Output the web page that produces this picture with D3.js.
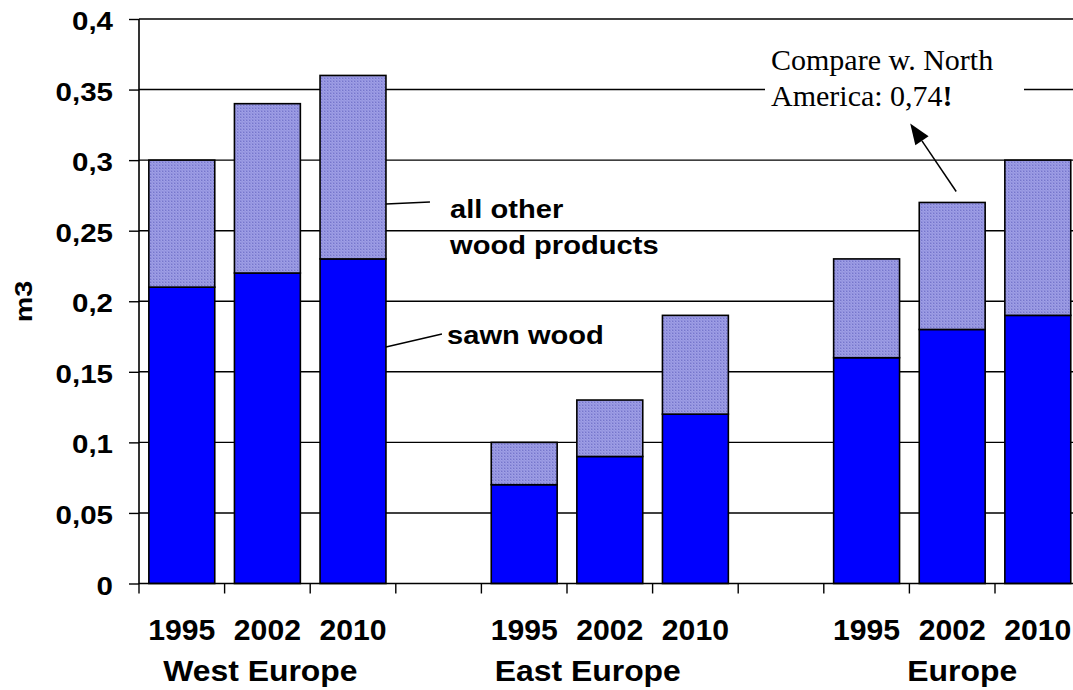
<!DOCTYPE html>
<html>
<head>
<meta charset="utf-8">
<script src="https://cdn.jsdelivr.net/npm/d3@7"></script>
<style>
  html, body { margin: 0; padding: 0; background: #fff; }
  svg { display: block; }
</style>
</head>
<body>
<div id="chart"></div>
<script>
// Per-capita consumption of wood products (m3), by region and year
const years = ["1995", "2002", "2010"];
const regions = ["West Europe", "East Europe", "Europe"];
// values listed region by region, years in order
const sawnWood   = [0.21, 0.22, 0.23,  0.07, 0.09, 0.12,  0.16, 0.18, 0.19];
const otherWood  = [0.09, 0.12, 0.13,  0.03, 0.04, 0.07,  0.07, 0.09, 0.11];
const yTickValues = [0, 0.05, 0.1, 0.15, 0.2, 0.25, 0.3, 0.35, 0.4];
const yTickLabels = ["0", "0,05", "0,1", "0,15", "0,2", "0,25", "0,3", "0,35", "0,4"];
const noteLines = ["Compare w. North", "America: 0,74"];

(function () {
const W = 1073, H = 690;
const svg = d3.select("#chart").append("svg")
  .attr("width", W).attr("height", H)
  .style("font-family", "'Liberation Sans', Arial, sans-serif");

// category slots: three years per region, an empty slot between regions
const slots = [];
regions.forEach((r, i) => {
  years.forEach(y => slots.push(r + "|" + y));
  if (i < regions.length - 1) slots.push("gap" + i);
});
const rows = [];
regions.forEach((r, i) => years.forEach((yr, j) => {
  const k = i * years.length + j;
  rows.push({ key: r + "|" + yr, region: r, year: yr, sawn: sawnWood[k], other: otherWood[k] });
}));

const plotLeft = 139, plotTop = 19, plotBottom = 583.5;
const step = 85.6;
const x = d3.scaleBand().domain(slots)
  .range([plotLeft, plotLeft + step * slots.length])
  .paddingInner(0.23).paddingOuter(0.115);
const y = d3.scaleLinear().domain([0, 0.4]).range([plotBottom, plotTop]);

// fill pattern for the "other products" segment
const defs = svg.append("defs");
const pat = defs.append("pattern").attr("id", "dots")
  .attr("width", 3).attr("height", 3).attr("patternUnits", "userSpaceOnUse");
pat.append("rect").attr("width", 3).attr("height", 3).attr("fill", "#a0a0e6");
pat.append("rect").attr("x", 0).attr("y", 0).attr("width", 1).attr("height", 1).attr("fill", "#7676cc");
pat.append("rect").attr("x", 1.5).attr("y", 1.5).attr("width", 1).attr("height", 1).attr("fill", "#7e7ed2");
pat.append("rect").attr("x", 1).attr("y", 0).attr("width", 1).attr("height", 1).attr("fill", "#8c8cda");
pat.append("rect").attr("x", 0).attr("y", 2).attr("width", 1).attr("height", 1).attr("fill", "#8c8cda");

// text helper with horizontal stretch
function txt(g, px, py, s, o) {
  const t = g.append("text")
    .attr("transform", `translate(${px},${py}) rotate(${o.rot || 0}) scale(${o.sx || 1},1)`)
    .attr("text-anchor", o.anchor || "start")
    .attr("font-size", o.size)
    .attr("font-weight", o.weight || "bold")
    .attr("fill", "#000")
    .text(s);
  if (o.family) t.attr("font-family", o.family);
  return t;
}

// horizontal gridlines
svg.append("g").selectAll("line").data(yTickValues.filter(v => v > 0)).join("line")
  .attr("x1", plotLeft).attr("x2", W)
  .attr("y1", d => y(d)).attr("y2", d => y(d))
  .attr("stroke", "#000").attr("stroke-width", 1.4);

// white box behind the note
svg.append("rect").attr("x", 765).attr("y", 40).attr("width", 259).attr("height", 74).attr("fill", "#fff");

// stacked bars
const bars = svg.append("g");
bars.selectAll("rect.sawn").data(rows).join("rect").attr("class", "sawn")
  .attr("x", d => x(d.key)).attr("width", x.bandwidth())
  .attr("y", d => y(d.sawn)).attr("height", d => y(0) - y(d.sawn))
  .attr("fill", "#0000ff").attr("stroke", "#000").attr("stroke-width", 1.6);
bars.selectAll("rect.other").data(rows).join("rect").attr("class", "other")
  .attr("x", d => x(d.key)).attr("width", x.bandwidth())
  .attr("y", d => y(d.sawn + d.other)).attr("height", d => y(d.sawn) - y(d.sawn + d.other))
  .attr("fill", "url(#dots)").attr("stroke", "#000").attr("stroke-width", 1.6);

// y axis
const yAxis = svg.append("g").attr("transform", `translate(${plotLeft},0)`)
  .call(d3.axisLeft(y).tickValues(yTickValues).tickSize(10).tickFormat(""));
yAxis.select(".domain").remove();
yAxis.selectAll("line").attr("stroke", "#000").attr("stroke-width", 1.4);
svg.append("line").attr("x1", plotLeft).attr("x2", plotLeft).attr("y1", plotTop).attr("y2", plotBottom + 0.5)
  .attr("stroke", "#000").attr("stroke-width", 1.6);
const yl = svg.append("g");
yTickValues.forEach((v, i) => txt(yl, 113, y(v) + 11, yTickLabels[i], { size: 25, sx: 1.18, anchor: "end" }));

// x axis with ticks between slots
svg.append("line").attr("x1", plotLeft).attr("x2", W).attr("y1", plotBottom).attr("y2", plotBottom)
  .attr("stroke", "#000").attr("stroke-width", 1.6);
svg.append("g").selectAll("line").data(slots).join("line")
  .attr("x1", d => x(d) - x.step() * x.paddingInner() / 2)
  .attr("x2", d => x(d) - x.step() * x.paddingInner() / 2)
  .attr("y1", plotBottom).attr("y2", plotBottom + 10)
  .attr("stroke", "#000").attr("stroke-width", 1.4);

// year and region labels
const xl = svg.append("g");
rows.forEach(d => txt(xl, x(d.key) + x.bandwidth() / 2, 640, d.year, { size: 29, sx: 1.04, anchor: "middle" }));
const regionShift = [-7, -22, 10];
regions.forEach((r, i) => {
  const mid = x(r + "|" + years[1]) + x.bandwidth() / 2;
  txt(xl, mid + regionShift[i], 681, r, { size: 29, sx: 1.1, anchor: "middle" });
});

// axis title
txt(svg, 31.5, 301.5, "m3", { size: 24, sx: 1.2, anchor: "middle", rot: -90 });

// segment labels with leader lines
const ann = svg.append("g");
const w10 = "West Europe|2010";
const wr = x(w10) + x.bandwidth();
ann.append("line").attr("x1", wr).attr("y1", 204).attr("x2", wr + 44).attr("y2", 202)
  .attr("stroke", "#000").attr("stroke-width", 1.3);
txt(ann, 450, 218, "all other", { size: 26, sx: 1.12 });
txt(ann, 450, 254, "wood products", { size: 26, sx: 1.12 });
ann.append("line").attr("x1", wr).attr("y1", 347).attr("x2", wr + 56).attr("y2", 334)
  .attr("stroke", "#000").attr("stroke-width", 1.3);
txt(ann, 447, 344, "sawn wood", { size: 26, sx: 1.12 });

// note with arrow pointing away from Europe 2002
const e02 = rows.find(d => d.key === "Europe|2002");
const ax0 = x(e02.key) + x.bandwidth() / 2 + 4, ay0 = y(e02.sawn + e02.other) - 11;
const ax1 = ax0 - 46, ay1 = ay0 - 68;
const ang = Math.atan2(ay1 - ay0, ax1 - ax0);
const hl = 21, hw = 8;
const bx = ax1 - hl * Math.cos(ang), by = ay1 - hl * Math.sin(ang);
ann.append("line").attr("x1", ax0).attr("y1", ay0).attr("x2", bx).attr("y2", by)
  .attr("stroke", "#000").attr("stroke-width", 1.5);
ann.append("path")
  .attr("d", `M${ax1},${ay1} L${bx + hw * Math.sin(ang)},${by - hw * Math.cos(ang)} L${bx - hw * Math.sin(ang)},${by + hw * Math.cos(ang)} Z`)
  .attr("fill", "#000");
const serif = "'Liberation Serif', 'Times New Roman', serif";
txt(ann, 771, 70, noteLines[0], { size: 30, weight: "normal", family: serif });
const l2 = txt(ann, 771, 106, noteLines[1], { size: 30, weight: "normal", family: serif });
l2.append("tspan").attr("font-weight", "bold").text("!");
})();
</script>
</body>
</html>
